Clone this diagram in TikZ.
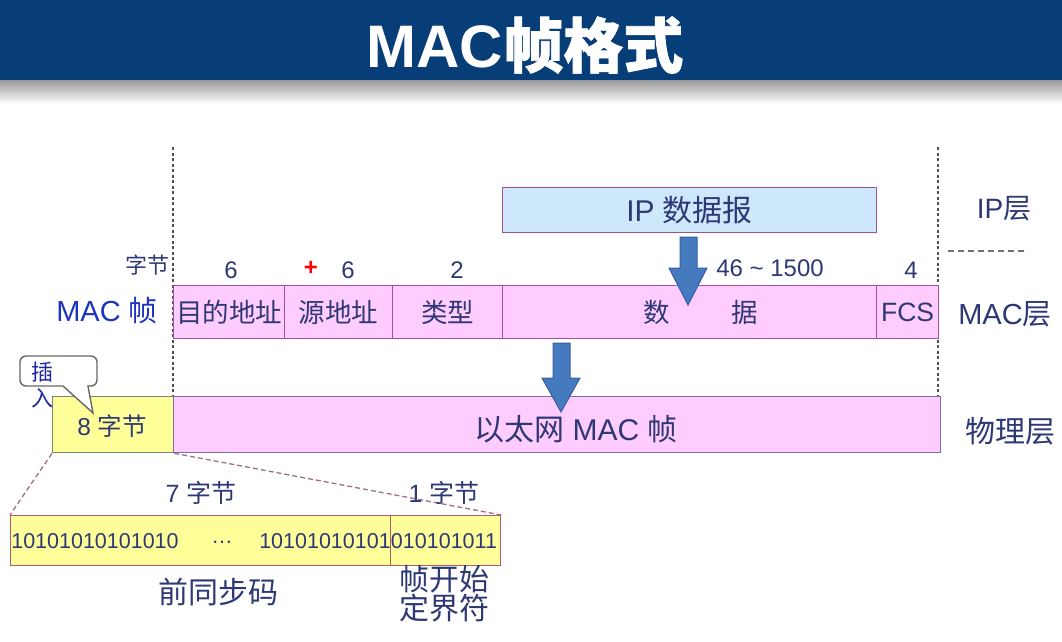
\documentclass[tikz,border=0pt]{standalone}
\usepackage{fontspec}
\setmainfont{Liberation Sans}
\newfontfamily\cjk{Noto Sans CJK SC}
\newfontfamily\cjkbold[FakeBold=1.2]{Noto Sans CJK SC}
\definecolor{band}{RGB}{8,62,120}
\definecolor{txtc}{RGB}{46,56,116}
\definecolor{macblue}{RGB}{28,52,190}
\definecolor{cellf}{RGB}{255,204,255}
\definecolor{cellb}{RGB}{160,80,150}
\definecolor{ethb}{RGB}{120,110,170}
\definecolor{ipf}{RGB}{204,232,250}
\definecolor{yelf}{RGB}{255,255,153}
\definecolor{yelb}{RGB}{120,135,110}
\definecolor{preb}{RGB}{176,90,110}
\definecolor{arrf}{RGB}{70,122,190}
\definecolor{arrb}{RGB}{52,95,160}
\definecolor{dotc}{RGB}{80,80,80}
\definecolor{linkc}{RGB}{160,110,140}
\tikzset{
  lbl/.style={text=txtc, inner sep=0pt, font=\fontsize{26.5}{30}\selectfont},
  big/.style={text=txtc, inner sep=0pt, font=\fontsize{30}{34}\selectfont},
  small/.style={text=txtc, inner sep=0pt, font=\fontsize{22}{26}\selectfont},
  num/.style={text=txtc, inner sep=0pt, font=\fontsize{24}{28}\selectfont},
  cell/.style={draw=cellb, fill=cellf, line width=1.3pt, inner sep=0pt, anchor=north west, text=txtc, font=\fontsize{26.5}{30}\selectfont},
  yel/.style={fill=yelf, line width=1.3pt, inner sep=0pt, anchor=north west, text=txtc},
  bigarrow/.style={fill=arrf, draw=arrb, line width=1pt, line join=miter},
  vdots/.style={draw=dotc, line width=1.5pt, dash pattern=on 3pt off 2.5pt},
  linkline/.style={draw=linkc, line width=1.3pt, dash pattern=on 5pt off 3pt},
}
\begin{document}
\begin{tikzpicture}[x=1pt,y=-1pt]
\useasboundingbox (0,0) rectangle (1062,642);
% title band
\fill[band] (0,0) rectangle (1062,80);
\shade[top color=black!40, bottom color=white] (0,80) rectangle (1062,104);
\node[text=white, inner sep=0pt, font=\fontsize{60}{60}\selectfont\bfseries] (title) at (525,45) {MAC{\cjkbold 帧格式}};

% dotted verticals
\draw[vdots] (173,147) -- (173,396);
\draw[vdots] (938,147) -- (938,396);
\draw[draw=black!55, line width=1.4pt, dash pattern=on 6pt off 4pt] (948,251) -- (1028,251);

% IP datagram
\node[cell, fill=ipf, minimum width=374pt, minimum height=45pt, font=\fontsize{30}{34}\selectfont] (ip) at (502,187) {IP {\cjk 数据报}};
\node[big, font=\fontsize{28}{32}\selectfont] (iplayer) at (1004,209) {IP{\cjk 层}};

% MAC frame row
\node[cell, minimum width=111pt, minimum height=53pt] (dst) at (173,285) {\cjk 目的地址};
\node[cell, minimum width=108pt, minimum height=53pt] (src) at (284,285) {\cjk 源地址};
\node[cell, minimum width=110pt, minimum height=53pt] (typ) at (392,285) {\cjk 类型};
\node[cell, minimum width=374pt, minimum height=53pt] (dat) at (502,285) {};
\node[cell, minimum width=62pt, minimum height=53pt] (fcs) at (876,285) {FCS};
\node[lbl] (shu) at (657,312) {\cjk 数};
\node[lbl] (ju) at (745,312) {\cjk 据};
\node[lbl, text=macblue, font=\fontsize{29}{32}\selectfont] (macframe) at (107,311) {MAC {\cjk 帧}};
\node[big, font=\fontsize{29}{32}\selectfont] (maclayer) at (1005,314) {MAC{\cjk 层}};

% byte counts
\node[small] (bytes) at (147,265) {\cjk 字节};
\node[num] (n1) at (231,270) {6};
\node[inner sep=0pt, text=red, font=\fontsize{24}{26}\selectfont\bfseries] (plus) at (311,268) {+};
\node[num] (n2) at (348,270) {6};
\node[num] (n3) at (457,270) {2};
\node[num] (n4) at (770,268) {46 \textasciitilde\ 1500};
\node[num] (n5) at (911,270) {4};

% arrow IP -> data
\path[bigarrow] (680,237) -- (697,237) -- (697,268) -- (707,268) -- (688,305) -- (669,268) -- (680,268) -- cycle;

% physical layer row
\node[yel, draw=yelb, minimum width=121pt, minimum height=56pt] (pre8) at (52,396) {};
\node[small, font=\fontsize{24.5}{28}\selectfont] (pre8t) at (112,426) {8 {\cjk 字节}};
\node[cell, draw=ethb, minimum width=767pt, minimum height=56pt] (eth) at (173,396) {};
\node[big] (etht) at (576,429) {{\cjk 以太网} MAC {\cjk 帧}};
\node[big] (phys) at (1010,431) {\cjk 物理层};

% arrow data -> eth
\path[bigarrow] (553,343) -- (570,343) -- (570,378) -- (580,378) -- (561,412) -- (542,378) -- (553,378) -- cycle;

% callout
\path[draw=black!60, fill=white, line width=1.4pt, rounded corners=6pt]
  (20,356) -- (97,356) -- (97,386) [sharp corners] -- (88,386) -- (93,413) -- (63,386) [rounded corners=6pt] -- (20,386) -- cycle;
\node[small, text=txtc!70!blue] (cha) at (42,372) {\cjk 插};
\node[small, text=txtc!70!blue] (ru) at (42,398) {\cjk 入};

% preamble
\node[yel, draw=preb, minimum width=380pt, minimum height=50pt] (pre) at (10,515) {};
\node[yel, draw=preb, minimum width=110pt, minimum height=50pt] (sfd) at (390,515) {};
\draw[linkline] (pre8.south west) -- (pre.north west);
\draw[linkline] (pre8.south east) -- (sfd.north east);
\node[small, font=\fontsize{21.5}{24}\selectfont] (b1) at (95,541) {10101010101010};
\node[small, font=\fontsize{21.5}{24}\selectfont] (dots) at (222,542) {\dots};
\node[small, font=\fontsize{21.5}{24}\selectfont, anchor=east] (b2) at (391,541) {10101010101};
\node[small, font=\fontsize{21.5}{24}\selectfont] (b3) at (444,541) {010101011};
\node[small, font=\fontsize{25}{28}\selectfont] (seven) at (201,493) {7 {\cjk 字节}};
\node[small, font=\fontsize{25}{28}\selectfont] (one) at (444,493) {1 {\cjk 字节}};
\node[big] (pretxt) at (218,592) {\cjk 前同步码};
\node[big, align=center, font=\fontsize{30}{29}\selectfont] (sfdtxt) at (444,594) {\cjk 帧开始\\\cjk 定界符};
\end{tikzpicture}
\end{document}
